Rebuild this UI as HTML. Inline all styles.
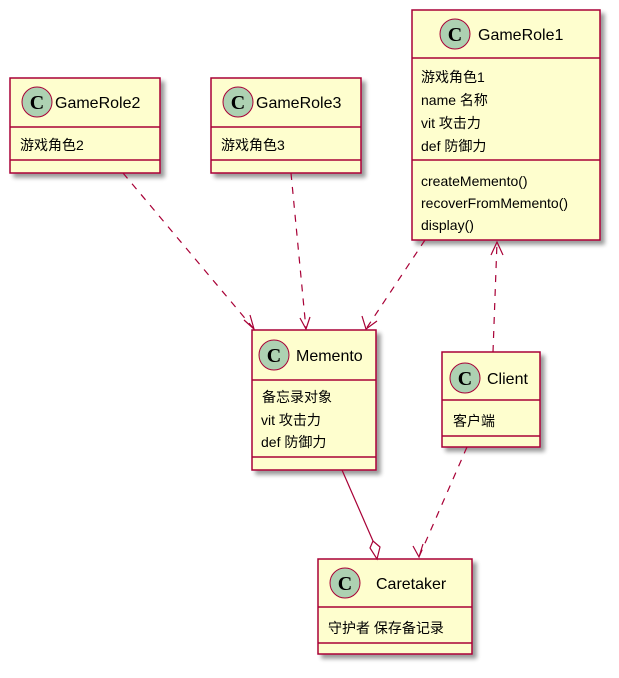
<!DOCTYPE html>
<html><head><meta charset="utf-8"><style>
html,body{margin:0;padding:0;background:#fff;}
svg text{font-family:"Liberation Sans","Noto Sans CJK SC",sans-serif;}
</style></head><body>
<svg width="619" height="673" viewBox="0 0 619 673" xmlns="http://www.w3.org/2000/svg">
<defs>
<filter id="sh" x="-10%" y="-10%" width="130%" height="130%">
<feGaussianBlur in="SourceAlpha" stdDeviation="2"/>
<feOffset dx="4" dy="4" result="b"/>
<feComponentTransfer><feFuncA type="linear" slope="0.4"/></feComponentTransfer>
<feMerge><feMergeNode/><feMergeNode in="SourceGraphic"/></feMerge>
</filter>
</defs>
<g stroke="#A80036" stroke-width="1.5" fill="#FEFECE">
<rect x="10" y="78" width="150" height="95" filter="url(#sh)"/>
<line x1="10" y1="127" x2="160" y2="127"/><line x1="10" y1="160" x2="160" y2="160"/>
<rect x="211" y="78" width="150" height="95" filter="url(#sh)"/>
<line x1="211" y1="127" x2="361" y2="127"/><line x1="211" y1="160" x2="361" y2="160"/>
<rect x="412" y="10" width="188" height="230" filter="url(#sh)"/>
<line x1="412" y1="58" x2="600" y2="58"/><line x1="412" y1="160" x2="600" y2="160"/>
<rect x="252" y="330" width="124" height="140" filter="url(#sh)"/>
<line x1="252" y1="380" x2="376" y2="380"/><line x1="252" y1="457" x2="376" y2="457"/>
<rect x="442" y="352" width="98" height="95" filter="url(#sh)"/>
<line x1="442" y1="400" x2="540" y2="400"/><line x1="442" y1="436" x2="540" y2="436"/>
<rect x="318" y="559" width="154" height="95" filter="url(#sh)"/>
<line x1="318" y1="607" x2="472" y2="607"/><line x1="318" y1="643" x2="472" y2="643"/>
</g>
<g fill="#ADD1B2" stroke="#A80036" stroke-width="1">
<circle cx="37" cy="102" r="15"/><circle cx="238" cy="102" r="15"/>
<circle cx="455" cy="34" r="15"/><circle cx="274" cy="355" r="15"/>
<circle cx="465" cy="378" r="15"/><circle cx="345" cy="583" r="15"/>
</g>
<g font-family="Liberation Serif" font-weight="bold" font-size="20" text-anchor="middle" fill="#000">
<text x="37" y="109" style="font-family:'Liberation Serif',serif">C</text>
<text x="238" y="109" style="font-family:'Liberation Serif',serif">C</text>
<text x="455" y="41" style="font-family:'Liberation Serif',serif">C</text>
<text x="274" y="362" style="font-family:'Liberation Serif',serif">C</text>
<text x="465" y="385" style="font-family:'Liberation Serif',serif">C</text>
<text x="345" y="590" style="font-family:'Liberation Serif',serif">C</text>
</g>
<g font-size="16" fill="#000">
<text x="55" y="108">GameRole2</text>
<text x="256" y="108">GameRole3</text>
<text x="478" y="40">GameRole1</text>
<text x="296" y="361">Memento</text>
<text x="487" y="384">Client</text>
<text x="376" y="589">Caretaker</text>
</g>
<g font-size="14" fill="#000">
<text x="20" y="150">游戏角色2</text>
<text x="221" y="150">游戏角色3</text>
<text x="421" y="82">游戏角色1</text>
<text x="421" y="105">name 名称</text>
<text x="421" y="128">vit 攻击力</text>
<text x="421" y="151">def 防御力</text>
<text x="421" y="186">createMemento()</text>
<text x="421" y="208">recoverFromMemento()</text>
<text x="421" y="230">display()</text>
<text x="262" y="402">备忘录对象</text>
<text x="261" y="425">vit 攻击力</text>
<text x="261" y="447">def 防御力</text>
<text x="453" y="426">客户端</text>
<text x="328" y="633">守护者 保存备记录</text>
</g>
<g stroke="#A80036" stroke-width="1.2" fill="none">
<path d="M123,173 L254,329" stroke-dasharray="7,7"/>
<path d="M244,320 L254,329 L250,315" />
<path d="M291,173 L306,329" stroke-dasharray="7,7"/>
<path d="M300,318 L306,329 L310,317"/>
<path d="M425,240 L366,329" stroke-dasharray="7,7"/>
<path d="M362,316 L366,329 L377,321"/>
<path d="M493,352 L497,242" stroke-dasharray="7,7"/>
<path d="M491,255 L497,242 L503,255"/>
<path d="M467,447 L419,557" stroke-dasharray="7,7"/>
<path d="M413,546 L419,557 L423,544"/>
<path d="M342,470 L373,541"/>
<path d="M373,541 L370,548 L377,559 L380,547 Z" fill="#fff"/>
</g>
</svg>
</body></html>
